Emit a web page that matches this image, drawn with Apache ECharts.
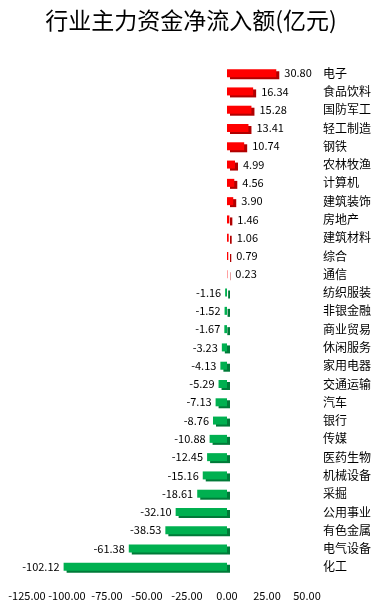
<!DOCTYPE html>
<html><head><meta charset="utf-8">
<script src="https://cdn.jsdelivr.net/npm/echarts@6/dist/echarts.min.js"></script>
<style>html,body{margin:0;padding:0;background:#fff}#c{width:382px;height:612px}</style>
</head><body><div id="c"></div>
<script>
var titleText = '行业主力资金净流入额(亿元)';
var categories = ['电子','食品饮料','国防军工','轻工制造','钢铁','农林牧渔','计算机','建筑装饰','房地产','建筑材料','综合','通信','纺织服装','非银金融','商业贸易','休闲服务','家用电器','交通运输','汽车','银行','传媒','医药生物','机械设备','采掘','公用事业','有色金属','电气设备','化工'];
var values = [30.80,16.34,15.28,13.41,10.74,4.99,4.56,3.90,1.46,1.06,0.79,0.23,-1.16,-1.52,-1.67,-3.23,-4.13,-5.29,-7.13,-8.76,-10.88,-12.45,-15.16,-18.61,-32.10,-38.53,-61.38,-102.12];
var xMin = -125, xMax = 50, xStep = 25;

var font = '"Noto Sans CJK SC", "Noto Sans", sans-serif';
var data = values.map(function(v){
  var pos = v >= 0;
  return {
    value: v,
    itemStyle: {
      color: pos ? '#ff0000' : '#00b050',
      shadowColor: pos ? '#b00000' : '#007a38',
      shadowOffsetX: 3, shadowOffsetY: 2, shadowBlur: 0
    },
    label: { position: pos ? 'right' : 'left', distance: pos ? 8 : 4 }
  };
});
var chart = echarts.init(document.getElementById('c'), null, {renderer:'canvas'});
chart.setOption({
  animation: false,
  title: { text: titleText, left: 'center', top: 4,
    textStyle: { fontFamily: '"Noto Sans CJK SC", serif', fontSize: 23, fontWeight: 'normal', color: '#000' } },
  grid: { left: 27, right: 75, top: 64, bottom: 36, containLabel: false },
  xAxis: { type: 'value', min: xMin, max: xMax, interval: xStep,
    axisLine: {show:false}, axisTick:{show:false}, splitLine:{show:false},
    axisLabel: { formatter: function(v){ return v.toFixed(2); }, fontFamily: font, fontSize: 11, color: '#000', margin: 14 } },
  yAxis: { type: 'category', data: categories, inverse: true, position: 'right',
    axisLine:{show:false}, axisTick:{show:false}, splitLine:{show:false},
    axisLabel: { fontFamily: font, fontSize: 12, color: '#000', align: 'left', margin: 16 } },
  series: [{ type: 'bar', data: data, barWidth: 8,
    label: { show: true, fontFamily: font, fontSize: 11, color: '#000',
      formatter: function(p){ return p.value.toFixed(2); } } }]
});
</script></body></html>
